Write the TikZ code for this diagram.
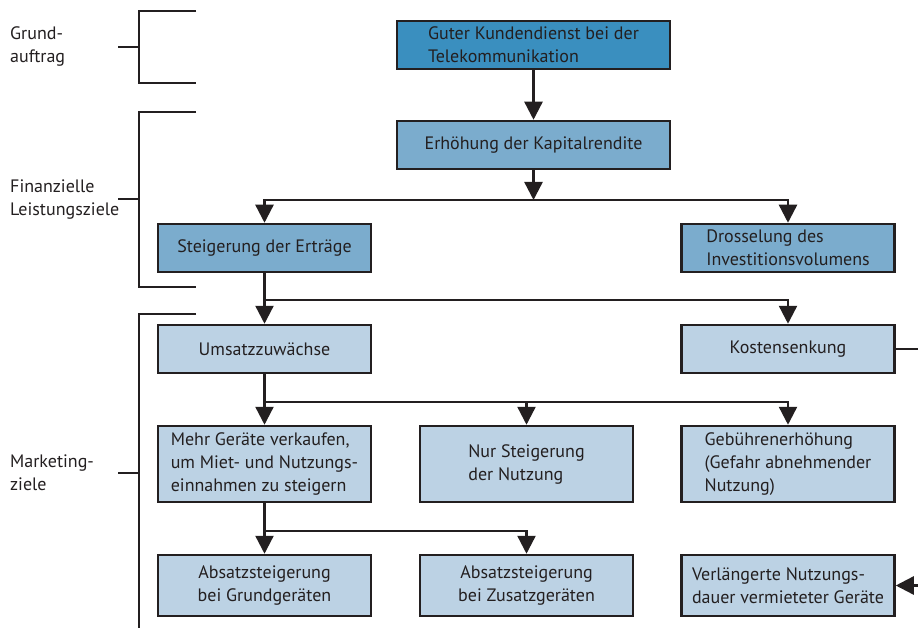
\documentclass[tikz,border=0pt]{standalone}
\usepackage{fontspec}
\setmainfont{PT Sans}
\usetikzlibrary{arrows.meta}
\definecolor{dkblue}{RGB}{58,143,191}
\definecolor{mdblue}{RGB}{123,172,205}
\definecolor{ltblue}{RGB}{188,210,228}
\definecolor{ink}{RGB}{35,31,32}
\begin{document}
\begin{tikzpicture}[x=1pt,y=-1pt,
  every node/.style={font=\fontsize{18}{23}\selectfont, text=ink, inner sep=0pt},
  box/.style={draw=ink, line width=2.5pt, minimum height=48pt},
  bw/.style={minimum width=213pt},
  ln/.style={draw=ink, line width=2.4pt},
  arr/.style={ln, -{Triangle[width=18pt,length=18pt]}},
  lab/.style={align=left, anchor=west}
  ]
\useasboundingbox (0,0) rectangle (918,628);
% boxes
\node[box, fill=dkblue, minimum width=273pt, align=left] (top) at (533.5,45) {Guter Kundendienst bei der\\Telekommunikation};
\node[box, fill=mdblue, minimum width=273pt] (erh) at (533.5,145) {Erhöhung der Kapitalrendite};
\node[box, bw, fill=mdblue] (steig) at (264.5,248) {Steigerung der Erträge};
\node[box, bw, fill=mdblue, align=left] (dross) at (788,248) {Drosselung des\\Investitionsvolumens};
\node[box, bw, fill=ltblue] (ums) at (264.5,349) {Umsatzzuwächse};
\node[box, bw, fill=ltblue] (kost) at (788,349) {Kostensenkung};
\node[box, bw, fill=ltblue, minimum height=76pt, align=left] (mehr) at (264.5,464) {Mehr Geräte verkaufen,\\um Miet- und Nutzungs-\\einnahmen zu steigern};
\node[box, bw, fill=ltblue, minimum height=76pt, align=left] (nur) at (526.5,464) {Nur Steigerung\\der Nutzung};
\node[box, bw, fill=ltblue, minimum height=76pt, align=left] (geb) at (788,464) {Gebührenerhöhung\\(Gefahr abnehmender\\Nutzung)};
\node[box, bw, fill=ltblue, minimum height=61pt, align=center] (grund) at (264.5,585.5) {Absatzsteigerung\\bei Grundgeräten};
\node[box, bw, fill=ltblue, minimum height=61pt, align=center] (zus) at (526.5,585.5) {Absatzsteigerung\\bei Zusatzgeräten};
\node[box, bw, fill=ltblue, minimum height=61pt, align=left] (verl) at (788,585.5) {Verlängerte Nutzungs-\\dauer vermieteter Geräte};
% junctions
\coordinate (j1) at (533.5,200);
\coordinate (j2) at (264.5,300);
\coordinate (j3) at (264.5,402);
\coordinate (j4) at (264.5,531);
\coordinate (e1) at (918,349);
\coordinate (e2) at (918,585.5);
% connectors
\draw[arr] (top) -- (erh);
\draw[arr] (erh) -- (j1);
\draw[arr] (j1) -| (steig.north);
\draw[arr] (j1) -| (dross.north);
\draw[arr] (steig) -- (ums);
\draw[arr] (j2) -| (kost.north);
\draw[ln] (kost.east) -- (e1);
\draw[arr] (ums) -- (mehr);
\draw[arr] (j3) -| (nur.north);
\draw[arr] (j3) -| (geb.north);
\draw[arr] (mehr) -- (grund);
\draw[arr] (j4) -| (zus.north);
\draw[arr] (e2) -- (verl.east);
% brackets
\draw[ln] (196,11) -- (139,11) -- (139,83) -- (196,83) (118,47) -- (139,47);
\draw[ln] (196,112) -- (139,112) -- (139,287) -- (196,287) (118,199) -- (139,199);
\draw[ln] (196,314) -- (139,314) -- (139,630) (118,473) -- (139,473);
% labels
\node[lab] (l1) at (10,47) {Grund-\\auftrag};
\node[lab] (l2) at (10,200) {Finanzielle\\Leistungsziele};
\node[lab] (l3) at (10,473) {Marketing-\\ziele};
\end{tikzpicture}
\end{document}
